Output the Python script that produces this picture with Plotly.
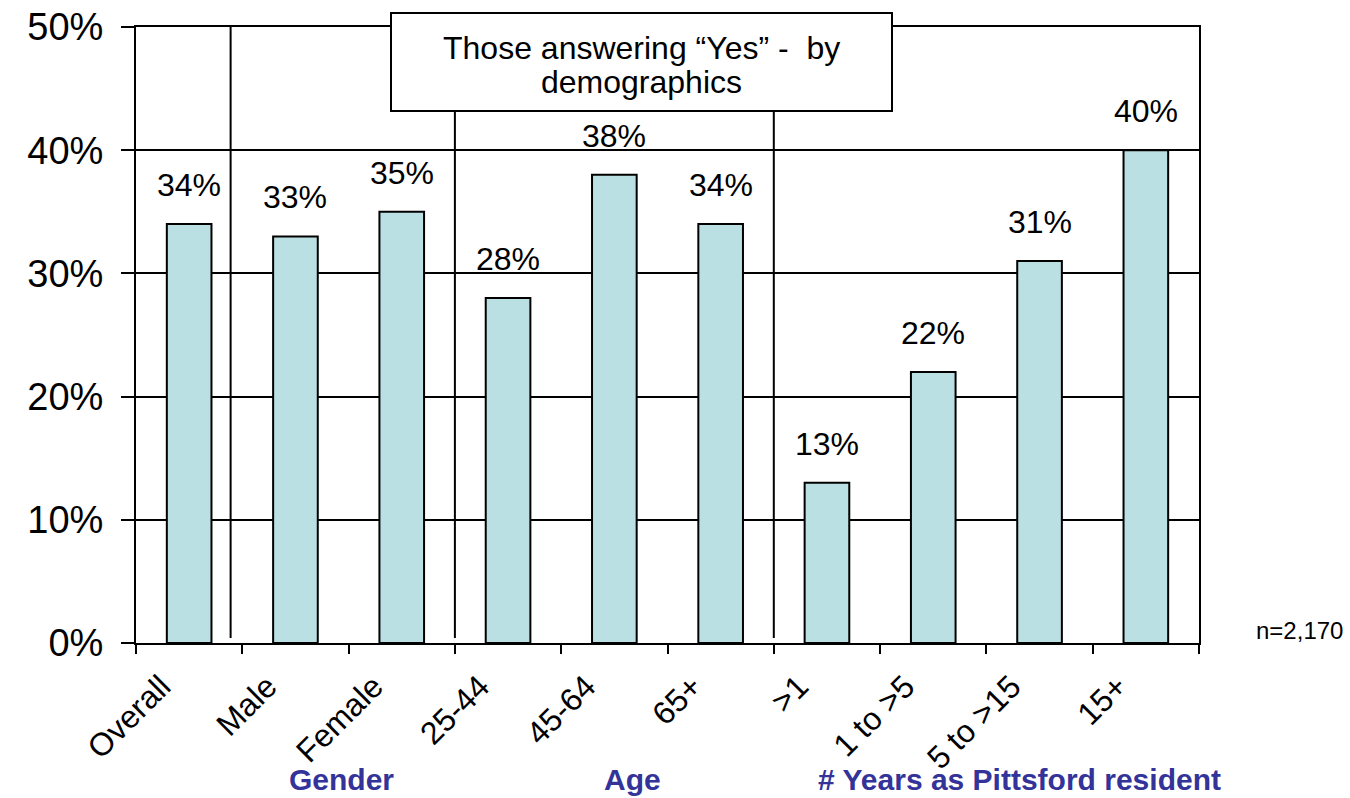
import plotly.graph_objects as go

categories = ["Overall", "Male", "Female", "25-44", "45-64", "65+", ">1", "1 to >5", "5 to >15", "15+"]
values = [34, 33, 35, 28, 38, 34, 13, 22, 31, 40]
value_labels = ["34%", "33%", "35%", "28%", "38%", "34%", "13%", "22%", "31%", "40%"]
y_ticks = [0, 10, 20, 30, 40, 50]
y_tick_labels = ["0%", "10%", "20%", "30%", "40%", "50%"]
group_labels = ["Gender", "Age", "# Years as Pittsford resident"]
title_lines = ["Those answering \u201cYes\u201d -\u00a0 by", "demographics"]
note = "n=2,170"

FONT = "Liberation Sans, Arial, sans-serif"

fig = go.Figure()
fig.add_trace(go.Bar(
    x=categories, y=values, width=0.42,
    marker=dict(color="#BAE0E3", line=dict(color="black", width=2)),
    hoverinfo="skip",
))

annotations = []
for c, v, t in zip(categories, values, value_labels):
    annotations.append(dict(x=c, y=v, xref="x", yref="y", text=t, showarrow=False,
                            yanchor="middle", yshift=39,
                            font=dict(family=FONT, size=32, color="black")))

# group labels
for gx, g in zip([0.193, 0.467, 0.831], group_labels):
    annotations.append(dict(x=gx, y=-0.222, xref="paper", yref="paper", text=g,
                            showarrow=False, xanchor="center", yanchor="middle",
                            font=dict(family=FONT, size=30, color="#333399", weight="bold")))

# note
annotations.append(dict(x=1.095, y=0.021, xref="paper", yref="paper", text=note,
                        showarrow=False, xanchor="center", yanchor="middle",
                        font=dict(family=FONT, size=24, color="black")))

# title box text
box_cx = ((391 + 892) / 2 - 136) / 1063
annotations.append(dict(x=box_cx, y=1.0, xref="paper", yref="paper", text=title_lines[0],
                        showarrow=False, xanchor="center", yanchor="middle", yshift=-21,
                        font=dict(family=FONT, size=32, color="black")))
annotations.append(dict(x=box_cx, y=1.0, xref="paper", yref="paper", text=title_lines[1],
                        showarrow=False, xanchor="center", yanchor="middle", yshift=-55,
                        font=dict(family=FONT, size=32, color="black")))

shapes = []
for sx in [0.39, 2.5, 5.5]:
    shapes.append(dict(type="line", xref="x", yref="paper", x0=sx, x1=sx, y0=0.008, y1=1,
                       line=dict(color="black", width=2), layer="above"))
# title box
shapes.append(dict(type="rect", xref="paper", yref="paper",
                   x0=(391 - 136) / 1063, x1=(892 - 136) / 1063,
                   y0=(643 - 111) / 616, y1=(643 - 13) / 616,
                   fillcolor="white", line=dict(color="black", width=2), layer="above"))

fig.update_layout(
    width=1350, height=798,
    margin=dict(l=136, r=151, t=27, b=155),
    paper_bgcolor="white", plot_bgcolor="white",
    showlegend=False,
    annotations=annotations,
    shapes=shapes,
    xaxis=dict(
        type="category", range=[-0.5, 9.5], automargin=False,
        tickangle=-45, tickson="boundaries",
        ticks="outside", ticklen=9, tickwidth=2, tickcolor="black",
        ticklabelshift=-28, ticklabelstandoff=10,
        showline=True, linecolor="black", linewidth=2, mirror=True,
        showgrid=False,
        tickfont=dict(family=FONT, size=32, color="black"),
    ),
    yaxis=dict(
        range=[0, 50], tickvals=y_ticks, ticktext=y_tick_labels, automargin=False,
        ticks="outside", ticklen=13, tickwidth=2, tickcolor="black",
        ticklabelstandoff=10,
        showline=True, linecolor="black", linewidth=2, mirror=True,
        showgrid=True, gridcolor="black", gridwidth=2,
        zeroline=False,
        tickfont=dict(family=FONT, size=38, color="black"),
    ),
)

fig.write_html("out.html", config={"displayModeBar": False},
               post_script="document.body.style.margin='0';document.body.style.overflow='hidden';")
